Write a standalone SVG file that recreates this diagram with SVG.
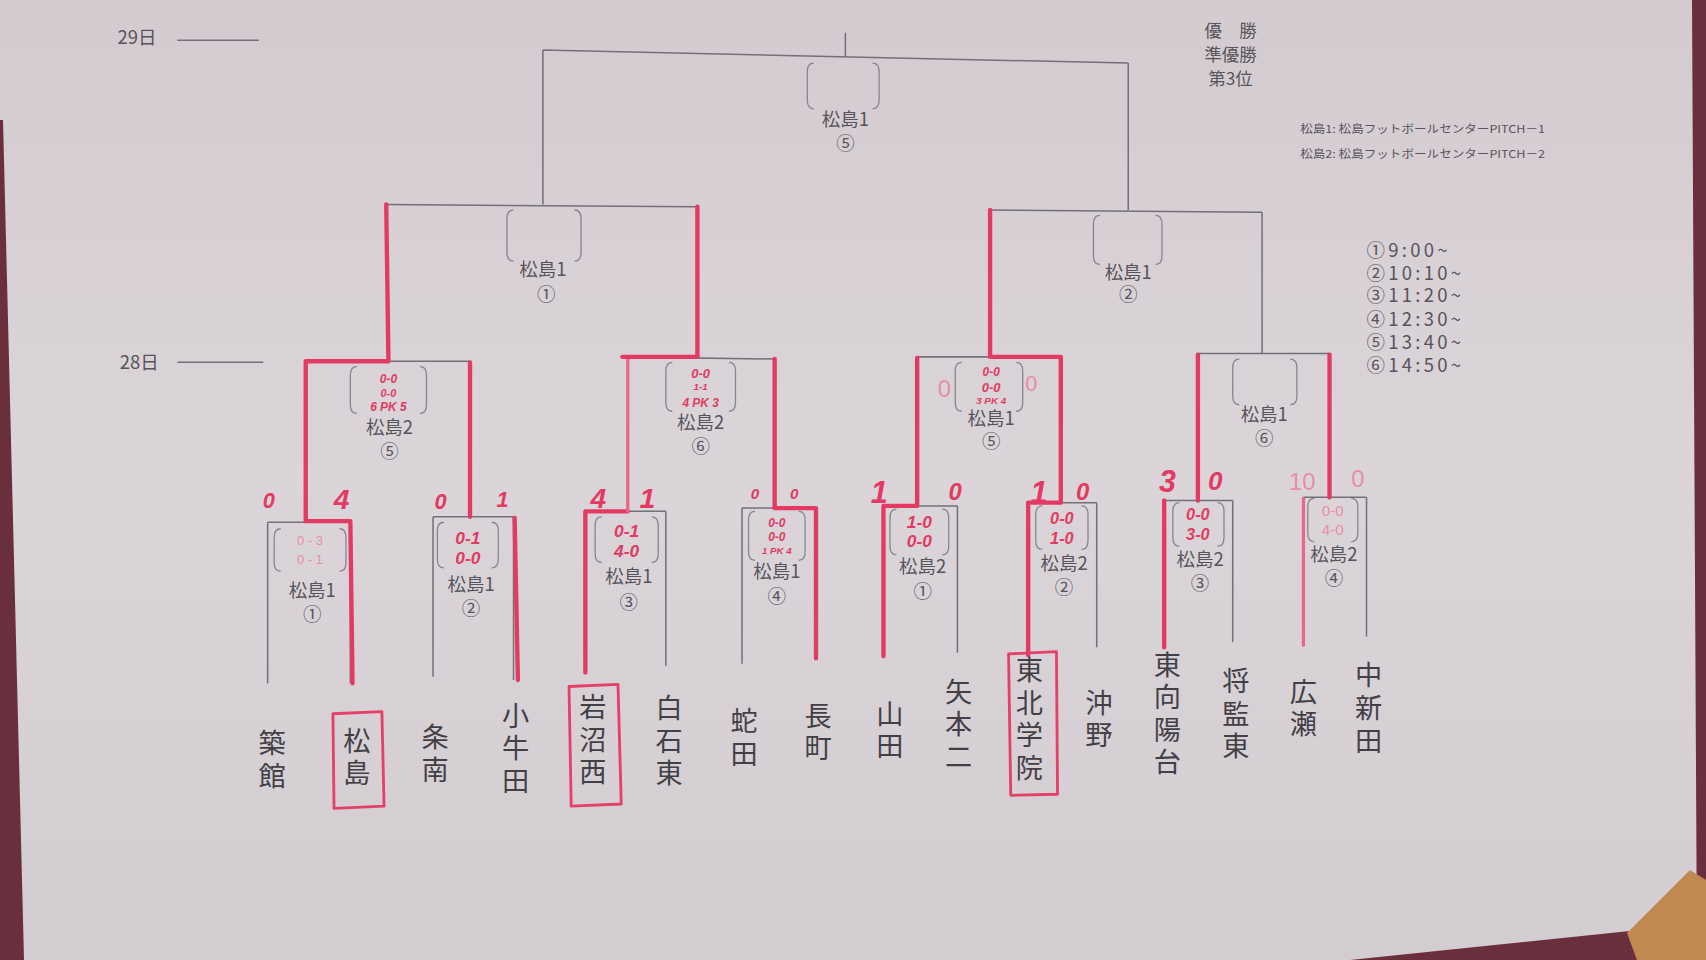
<svg xmlns="http://www.w3.org/2000/svg" width="1706" height="960" viewBox="0 0 1706 960">
<defs>
<linearGradient id="paper" x1="0" y1="0" x2="0" y2="1">
<stop offset="0" stop-color="#d4cbd0"/>
<stop offset="0.5" stop-color="#dbd5da"/>
<stop offset="1" stop-color="#d3ccd1"/>
</linearGradient>
<style>
.g{stroke:#737077;stroke-width:1.4;fill:none}
.r{stroke:#e23a63;stroke-width:4;fill:none;stroke-linecap:round;stroke-linejoin:round}
.rl{stroke:#e56a8a;stroke-width:3;fill:none;stroke-linecap:round}
.br{stroke:#8a858d;stroke-width:1.2;fill:none}
.rb{stroke:#e4406a;stroke-width:2.6;fill:none;stroke-linejoin:round}
.lab{font-family:"Noto Sans CJK JP","Noto Sans CJK SC",sans-serif;font-size:17px;fill:#58545b;text-anchor:middle}
.txt{font-family:"Noto Sans CJK JP","Noto Sans CJK SC",sans-serif;fill:#58545b}
.team{font-family:"Noto Sans CJK JP","Noto Sans CJK SC",sans-serif;font-size:25px;fill:#433f46;writing-mode:vertical-rl;letter-spacing:5px}
.sc{font-family:"Liberation Sans",sans-serif;font-weight:bold;font-style:italic;fill:#e23a63;text-anchor:middle}
.scl{font-family:"Liberation Sans",sans-serif;fill:#e98ea6;text-anchor:middle}
</style>
</defs>
<rect width="1706" height="960" fill="url(#paper)"/>
<polygon points="1692,0 1706,0 1706,960 1697,960" fill="#6a2f3c"/>
<polygon points="0,120 3,120 24,960 0,960" fill="#6a2f3c"/>
<polygon points="1350,960 1630,931 1706,928 1706,960" fill="#6a2f3c"/>
<polygon points="1627,933 1690,870 1706,880 1706,960 1637,960" fill="#c0894f"/>
<g transform="scale(1.088)">
<g id="dates" class="txt">
<text x="108" y="40" font-size="17">29日</text>
<line class="g" x1="163" y1="37" x2="238" y2="37"/>
<text x="110" y="339" font-size="17">28日</text>
<line class="g" x1="163" y1="333" x2="242" y2="333"/>
</g>
<g id="ranking" class="txt" font-size="16" text-anchor="middle">
<text x="1131" y="34">優　勝</text>
<text x="1131" y="56">準優勝</text>
<text x="1131" y="78">第3位</text>
</g>
<g id="venues" class="txt" font-size="10">
<text x="1195" y="122" textLength="225" lengthAdjust="spacingAndGlyphs">松島1: 松島フットボールセンターPITCH－1</text>
<text x="1195" y="145" textLength="225" lengthAdjust="spacingAndGlyphs">松島2: 松島フットボールセンターPITCH－2</text>
</g>
<g id="times" class="txt" font-size="17" letter-spacing="3">
<text x="1256" y="236">①9:00~</text>
<text x="1256" y="257">②10:10~</text>
<text x="1256" y="278">③11:20~</text>
<text x="1256" y="300">④12:30~</text>
<text x="1256" y="321">⑤13:40~</text>
<text x="1256" y="342">⑥14:50~</text>
</g>
<g id="connectors">
<path class="g" d="M777 30 L777 52 M499 46 L1037 58 M499 46 L499 188 M1037 58 L1037 193"/>
<path class="g" d="M355 188 L641 190 M910 193 L1160 195 M1160 195 L1160 325"/>
<path class="g" d="M281 332 L432 332 M572 328 L712 330 M843 328 L975 328 M1101 325 L1222 325"/>
<path class="g" d="M246 480 L322 480 M246 480 L246 628 M322 480 L322 628"/>
<path class="g" d="M398 475 L472 475 M398 475 L398 622 M472 475 L472 625"/>
<path class="g" d="M538 470 L612 470 M538 470 L538 618 M612 470 L612 612"/>
<path class="g" d="M682 467 L750 467 M682 467 L682 610 M750 467 L750 605"/>
<path class="g" d="M812 465 L880 465 M812 465 L812 603 M880 465 L880 600"/>
<path class="g" d="M945 462 L1008 462 M945 462 L945 598 M1008 462 L1008 595"/>
<path class="g" d="M1070 460 L1133 460 M1070 460 L1070 595 M1133 460 L1133 590"/>
<path class="g" d="M1198 457 L1256 457 M1198 457 L1198 593 M1256 457 L1256 585"/>
<path class="r" d="M324 628 L322 479 L281 479 L281 332 L357 332 L355 188"/>
<path class="r" d="M476 625 L473 476 M432 475 L432 333"/>
<path class="r" d="M538 618 L538 470 L577 470"/>
<path class="rl" d="M577 470 L577 330"/>
<path class="r" d="M572 328 L641 328 L641 190"/>
<path class="r" d="M750 605 L750 467 L712 467 L712 330"/>
<path class="r" d="M812 603 L812 465 L843 465 L843 329"/>
<path class="r" d="M945 602 L945 462 L975 462 L975 328 L910 328 L910 193"/>
<path class="r" d="M1070 595 L1070 460 M1101 460 L1101 326"/>
<path class="rl" d="M1198 593 L1198 458"/>
<path class="r" d="M1222 457 L1222 326"/>
</g>
<g id="final">
<path class="br" d="M748 58 Q742 58 742 66 L742 92 Q742 100 748 100 M802 58 Q808 58 808 66 L808 92 Q808 100 802 100"/>
<text class="lab" x="777" y="116">松島1</text>
<text class="lab" x="777" y="138">⑤</text>
</g>
<g id="sf1">
<path class="br" d="M472 193 Q466 193 466 201 L466 232 Q466 240 472 240 M528 193 Q534 193 534 201 L534 232 Q534 240 528 240"/>
<text class="lab" x="499" y="254">松島1</text>
<text class="lab" x="502" y="277">①</text>
</g>
<g id="sf2">
<path class="br" d="M1011 198 Q1005 198 1005 206 L1005 235 Q1005 243 1011 243 M1062 198 Q1068 198 1068 206 L1068 235 Q1068 243 1062 243"/>
<text class="lab" x="1037" y="256">松島1</text>
<text class="lab" x="1037" y="277">②</text>
</g>
<g id="qf1">
<path class="br" d="M328 337 Q322 337 322 345 L322 372 Q322 380 328 380 M386 337 Q392 337 392 345 L392 372 Q392 380 386 380"/>
<text class="sc" x="357" y="352" font-size="11">0-0</text>
<text class="sc" x="357" y="365" font-size="10">0-0</text>
<text class="sc" x="357" y="378" font-size="11">6 PK 5</text>
<text class="lab" x="358" y="399">松島2</text>
<text class="lab" x="358" y="421">⑤</text>
</g>
<g id="qf2">
<path class="br" d="M618 333 Q612 333 612 341 L612 370 Q612 378 618 378 M670 333 Q676 333 676 341 L676 370 Q676 378 670 378"/>
<text class="sc" x="644" y="347" font-size="12">0-0</text>
<text class="sc" x="644" y="358" font-size="9">1-1</text>
<text class="sc" x="644" y="374" font-size="11">4 PK 3</text>
<text class="lab" x="644" y="394">松島2</text>
<text class="lab" x="644" y="416">⑥</text>
</g>
<g id="qf3">
<path class="br" d="M884 333 Q878 333 878 341 L878 370 Q878 378 884 378 M934 333 Q940 333 940 341 L940 370 Q940 378 934 378"/>
<text class="sc" x="911" y="346" font-size="11">0-0</text>
<text class="sc" x="911" y="360" font-size="12">0-0</text>
<text class="sc" x="911" y="371" font-size="9">3 PK 4</text>
<text class="scl" x="868" y="365" font-size="22">0</text>
<text class="scl" x="948" y="359" font-size="20">0</text>
<text class="lab" x="911" y="391">松島1</text>
<text class="lab" x="911" y="412">⑤</text>
</g>
<g id="qf4">
<path class="br" d="M1139 330 Q1133 330 1133 338 L1133 364 Q1133 372 1139 372 M1186 330 Q1192 330 1192 338 L1192 364 Q1192 372 1186 372"/>
<text class="lab" x="1162" y="387">松島1</text>
<text class="lab" x="1162" y="409">⑥</text>
</g>
<g id="m1">
<path class="br" d="M258 486 Q252 486 252 494 L252 517 Q252 525 258 525 M312 486 Q318 486 318 494 L318 517 Q318 525 312 525"/>
<text class="scl" x="285" y="501" font-size="12">0 - 3</text>
<text class="scl" x="285" y="518" font-size="12">0 - 1</text>
<text class="lab" x="287" y="549">松島1</text>
<text class="lab" x="287" y="571">①</text>
<text class="sc" x="247" y="467" font-size="20">0</text>
<text class="sc" x="314" y="468" font-size="26">4</text>
</g>
<g id="m2">
<path class="br" d="M408 480 Q402 480 402 488 L402 514 Q402 522 408 522 M452 480 Q458 480 458 488 L458 514 Q458 522 452 522"/>
<text class="sc" x="430" y="500" font-size="16">0-1</text>
<text class="sc" x="430" y="518" font-size="16">0-0</text>
<text class="lab" x="433" y="543">松島1</text>
<text class="lab" x="433" y="565">②</text>
<text class="sc" x="405" y="468" font-size="20">0</text>
<text class="sc" x="462" y="466" font-size="20">1</text>
</g>
<g id="m3">
<path class="br" d="M553 475 Q547 475 547 483 L547 509 Q547 517 553 517 M599 475 Q605 475 605 483 L605 509 Q605 517 599 517"/>
<text class="sc" x="576" y="494" font-size="16">0-1</text>
<text class="sc" x="576" y="512" font-size="16">4-0</text>
<text class="lab" x="578" y="536">松島1</text>
<text class="lab" x="578" y="560">③</text>
<text class="sc" x="550" y="467" font-size="26">4</text>
<text class="sc" x="595" y="467" font-size="26">1</text>
</g>
<g id="m4">
<path class="br" d="M694 470 Q688 470 688 478 L688 507 Q688 515 694 515 M734 470 Q740 470 740 478 L740 507 Q740 515 734 515"/>
<text class="sc" x="714" y="484" font-size="11">0-0</text>
<text class="sc" x="714" y="497" font-size="11">0-0</text>
<text class="sc" x="714" y="509" font-size="9">1 PK 4</text>
<text class="lab" x="714" y="531">松島1</text>
<text class="lab" x="714" y="554">④</text>
<text class="sc" x="694" y="459" font-size="14">0</text>
<text class="sc" x="730" y="459" font-size="14">0</text>
</g>
<g id="m5">
<path class="br" d="M824 468 Q818 468 818 476 L818 502 Q818 510 824 510 M866 468 Q872 468 872 476 L872 502 Q872 510 866 510"/>
<text class="sc" x="845" y="485" font-size="16">1-0</text>
<text class="sc" x="845" y="503" font-size="16">0-0</text>
<text class="lab" x="848" y="527">松島2</text>
<text class="lab" x="848" y="550">①</text>
<text class="sc" x="808" y="462" font-size="28">1</text>
<text class="sc" x="878" y="460" font-size="22">0</text>
</g>
<g id="m6">
<path class="br" d="M958 465 Q952 465 952 473 L952 497 Q952 505 958 505 M994 465 Q1000 465 1000 473 L1000 497 Q1000 505 994 505"/>
<text class="sc" x="976" y="482" font-size="15">0-0</text>
<text class="sc" x="976" y="500" font-size="15">1-0</text>
<text class="lab" x="978" y="524">松島2</text>
<text class="lab" x="978" y="546">②</text>
<text class="sc" x="955" y="462" font-size="28">1</text>
<text class="sc" x="995" y="460" font-size="22">0</text>
</g>
<g id="m7">
<path class="br" d="M1084 462 Q1078 462 1078 470 L1078 494 Q1078 502 1084 502 M1119 462 Q1125 462 1125 470 L1125 494 Q1125 502 1119 502"/>
<text class="sc" x="1101" y="478" font-size="15">0-0</text>
<text class="sc" x="1101" y="496" font-size="15">3-0</text>
<text class="lab" x="1103" y="520">松島2</text>
<text class="lab" x="1103" y="542">③</text>
<text class="sc" x="1073" y="452" font-size="28">3</text>
<text class="sc" x="1117" y="450" font-size="24">0</text>
</g>
<g id="m8">
<path class="br" d="M1208 458 Q1202 458 1202 466 L1202 490 Q1202 498 1208 498 M1242 458 Q1248 458 1248 466 L1248 490 Q1248 498 1242 498"/>
<text class="scl" x="1225" y="474" font-size="14">0-0</text>
<text class="scl" x="1225" y="492" font-size="14">4-0</text>
<text class="lab" x="1226" y="516">松島2</text>
<text class="lab" x="1226" y="538">④</text>
<text class="scl" x="1197" y="450" font-size="22">10</text>
<text class="scl" x="1248" y="448" font-size="22">0</text>
</g>
<g id="teams">
<text class="team" x="250" y="670">築館</text>
<g id="team-matsushima"><text class="team" x="328" y="668">松島</text><path class="rb" d="M306 656 L351 654 L353 741 L307 743 Z"/></g>
<text class="team" x="400" y="665">条南</text>
<text class="team" x="474" y="645">小牛田</text>
<g id="team-iwanumanishi"><text class="team" x="545" y="637">岩沼西</text><path class="rb" d="M523 631 L568 629 L571 739 L525 741 Z"/></g>
<text class="team" x="615" y="638">白石東</text>
<text class="team" x="684" y="650">蛇田</text>
<text class="team" x="752" y="645">長町</text>
<text class="team" x="818" y="643">山田</text>
<text class="team" x="881" y="623">矢本二</text>
<g id="team-tohokugakuin"><text class="team" x="946" y="603">東北学院</text><path class="rb" d="M927 601 L971 599 L972 730 L929 731 Z"/></g>
<text class="team" x="1010" y="633">沖野</text>
<text class="team" x="1073" y="598">東向陽台</text>
<text class="team" x="1136" y="613">将監東</text>
<text class="team" x="1198" y="623">広瀬</text>
<text class="team" x="1258" y="608">中新田</text>
</g>
</g>
</svg>
